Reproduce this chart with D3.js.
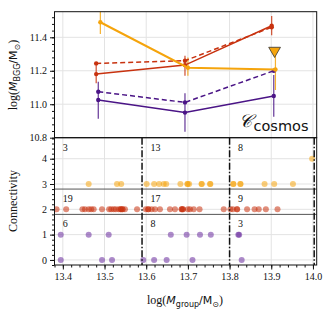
<!DOCTYPE html>
<html>
<head>
<meta charset="utf-8">
<script src="https://cdn.jsdelivr.net/npm/d3@7"></script>
<style>
  body { margin: 0; background: #fff; }
  text { font-family: "Liberation Serif", "DejaVu Serif", serif; }
</style>
</head>
<body>
<div id="chart"></div>
<script>
const c_purple = "#4a1486";
const c_red = "#c8320f";
const c_yellow = "#f5a40c";

// top panel: BGG mass per group-mass bin
const xRed = [13.48, 13.693, 13.901];
const xPurple = [13.485, 13.693, 13.906];
const xYellow = [13.49, 13.70, 13.91];
const redSolid = [11.18, 11.234, 11.469];
const redLo = [11.125, 11.17, 11.413];
const redHi = [11.25, 11.29, 11.527];
const redDashed = [11.244, 11.26, 11.46];
const purpleSolid = [11.025, 10.95, 11.049];
const purpleLo = [10.913, 10.836, 10.925];
const purpleHi = [11.134, 11.065, 11.174];
const purpleDashed = [11.075, 11.011, 11.2];
const yellowVals = [11.49, 11.218, 11.208];
const yellowLo = [11.42, 11.17, 11.085];
const yellowHi = [11.6, 11.28, 11.32];
const yellowLimit = [13.908, 11.32];

// bottom panel: connectivity of each group
const purpleC0 = [13.395, 13.494, 13.518, 13.593, 13.619, 13.649, 13.711, 13.829];
const purpleC1 = [13.395, 13.462, 13.510, 13.659, 13.697, 13.729, 13.755, 13.821, 13.823];
const redC2 = [13.385, 13.408, 13.447, 13.453, 13.462, 13.468, 13.474, 13.494, 13.511, 13.516,
  13.522, 13.527, 13.534, 13.539, 13.539, 13.543, 13.543, 13.549, 13.578,
  13.599, 13.605, 13.605, 13.613, 13.621, 13.633, 13.657, 13.669, 13.685, 13.685, 13.688,
  13.688, 13.700, 13.705, 13.714, 13.728, 13.786,
  13.802, 13.808, 13.818, 13.818, 13.842, 13.860, 13.870, 13.887, 13.915];
const yellowC3 = [13.462, 13.530, 13.540,
  13.601, 13.619, 13.631, 13.642, 13.648, 13.682, 13.699, 13.699, 13.703, 13.733, 13.733,
  13.753, 13.754, 13.809, 13.809, 13.826, 13.826, 13.884, 13.907, 13.952];
const yellowC4 = [13.998];

const binEdges = [13.59, 13.80, 14.003];
const binLabelX = [13.40, 13.61, 13.82];
const yellowCounts = [3, 13, 8];
const redCounts = [19, 17, 9];
const purpleCounts = [6, 8, 3];

const xTicks = [13.4, 13.5, 13.6, 13.7, 13.8, 13.9, 14.0];
const topTicks = [10.8, 11.0, 11.2, 11.4];
const botTicks = [0, 1, 2, 3, 4];

const width = 325, height = 314;
const pLeft = 54.5, pRight = 316.7, pTop = 11.7, pMid = 137.7, pBottom = 265;
const serif = "Liberation Serif, DejaVu Serif, serif";
const sans = "DejaVu Sans, sans-serif";

const svg = d3.select("#chart").append("svg")
  .attr("width", width).attr("height", height);

const x = d3.scaleLinear().domain([13.38, 14.009]).range([pLeft, pRight]);
const yTop = d3.scaleLinear().domain([10.8, 11.553]).range([pMid, pTop]);
const yBot = d3.scaleLinear().domain([-0.2, 4.83]).range([pBottom, pMid]);

const defs = svg.append("defs");
defs.append("clipPath").attr("id", "clipTop")
  .append("rect").attr("x", pLeft).attr("y", pTop).attr("width", pRight - pLeft).attr("height", pMid - pTop);
defs.append("clipPath").attr("id", "clipBot")
  .append("rect").attr("x", pLeft).attr("y", pMid).attr("width", pRight - pLeft).attr("height", pBottom - pMid);

// grid
const grid = svg.append("g").attr("stroke", "#e3e3e3").attr("stroke-width", 1);
xTicks.forEach(t => {
  grid.append("line").attr("x1", x(t)).attr("x2", x(t)).attr("y1", pTop).attr("y2", pBottom);
});
topTicks.forEach(t => {
  grid.append("line").attr("x1", pLeft).attr("x2", pRight).attr("y1", yTop(t)).attr("y2", yTop(t));
});
botTicks.forEach(t => {
  grid.append("line").attr("x1", pLeft).attr("x2", pRight).attr("y1", yBot(t)).attr("y2", yBot(t));
});

// top panel lines
const gTop = svg.append("g").attr("clip-path", "url(#clipTop)");
const line = d3.line().x(d => x(d[0])).y(d => yTop(d[1]));

function series(xs, ys, color, dash, lw) {
  const pts = xs.map((v, i) => [v, ys[i]]);
  gTop.append("path").datum(pts).attr("d", line)
    .attr("fill", "none").attr("stroke", color).attr("stroke-width", lw)
    .attr("stroke-dasharray", dash ? "5,3" : null);
  gTop.selectAll(null).data(pts).enter().append("circle")
    .attr("cx", d => x(d[0])).attr("cy", d => yTop(d[1])).attr("r", 2.2).attr("fill", color);
}
function errs(xs, lo, hi, color) {
  gTop.selectAll(null).data(xs).enter().append("line")
    .attr("x1", d => x(d)).attr("x2", d => x(d))
    .attr("y1", (d, i) => yTop(lo[i])).attr("y2", (d, i) => yTop(hi[i]))
    .attr("stroke", color).attr("stroke-width", 1.2).attr("opacity", 0.85);
}

errs(xPurple, purpleLo, purpleHi, c_purple);
errs(xRed, redLo, redHi, c_red);
errs(xYellow, yellowLo, yellowHi, c_yellow);
series(xPurple, purpleDashed, c_purple, true, 1.5);
series(xPurple, purpleSolid, c_purple, false, 1.5);
series(xRed, redDashed, c_red, true, 1.5);
series(xRed, redSolid, c_red, false, 1.5);
series(xYellow, yellowVals, c_yellow, false, 2);

gTop.append("path")
  .attr("d", d3.symbol().type(d3.symbolTriangle).size(60)())
  .attr("transform", `translate(${x(yellowLimit[0])},${yTop(yellowLimit[1])}) rotate(180)`)
  .attr("fill", c_yellow).attr("stroke", "#333").attr("stroke-width", 0.8);

// cosmos label
const lab = svg.append("text").attr("x", 239).attr("y", 131)
  .style("font-family", sans).attr("font-size", 14.5).attr("fill", "#111");
lab.append("tspan").text("𝒞").attr("font-size", 18).attr("dy", -4)
  .style("font-family", "DejaVu Serif, serif").attr("font-style", "italic");
lab.append("tspan").text("cosmos").attr("dy", 4).attr("dx", 1.5);

// bottom panel
const gBot = svg.append("g").attr("clip-path", "url(#clipBot)");
gBot.selectAll(null).data([2.8, 1.8]).enter().append("line")
  .attr("x1", pLeft).attr("x2", pRight).attr("y1", d => yBot(d)).attr("y2", d => yBot(d))
  .attr("stroke", "#555").attr("stroke-width", 1);

function dots(xs, c, color) {
  gBot.selectAll(null).data(xs).enter().append("circle")
    .attr("cx", d => x(d)).attr("cy", yBot(c)).attr("r", 3)
    .attr("fill", color).attr("fill-opacity", 0.55);
}
dots(purpleC0, 0, "#6a2c9e");
dots(purpleC1, 1, "#6a2c9e");
dots(redC2, 2, c_red);
dots(yellowC3, 3, c_yellow);
dots(yellowC4, 4, c_yellow);

gBot.selectAll(null).data(binEdges).enter().append("line")
  .attr("x1", d => x(d)).attr("x2", d => x(d)).attr("y1", pMid).attr("y2", pBottom)
  .attr("stroke", "#111").attr("stroke-width", 1.5).attr("stroke-dasharray", "7,2,1.5,2");

const countRows = [[yellowCounts, 4.45], [redCounts, 2.42], [purpleCounts, 1.45]];
countRows.forEach(r => {
  svg.selectAll(null).data(r[0]).enter().append("text")
    .attr("x", (d, i) => x(binLabelX[i])).attr("y", yBot(r[1]))
    .attr("dy", "0.35em").attr("font-size", 10).attr("fill", "#111")
    .style("font-family", serif)
    .text(d => d);
});

// axes
function fmt(d) { return d3.format(".1f")(d); }
const xMinor = d3.range(13.38, 14.01, 0.02);
svg.append("g").attr("transform", `translate(0,${pBottom})`)
  .call(d3.axisBottom(x).tickValues(xMinor).tickSize(2.5).tickFormat(""));
svg.append("g").attr("transform", `translate(0,${pBottom})`)
  .call(d3.axisBottom(x).tickValues(xTicks).tickSize(4.5).tickPadding(3).tickFormat(fmt));

svg.append("g").attr("transform", `translate(${pLeft},0)`)
  .call(d3.axisLeft(yTop).tickValues(d3.range(10.8, 11.55, 0.04)).tickSize(2.5).tickFormat(""));
svg.append("g").attr("transform", `translate(${pLeft},0)`)
  .call(d3.axisLeft(yTop).tickValues(topTicks).tickSize(4.5).tickPadding(3).tickFormat(fmt));

svg.append("g").attr("transform", `translate(${pLeft},0)`)
  .call(d3.axisLeft(yBot).tickValues(d3.range(-0.2, 4.81, 0.2)).tickSize(2.5).tickFormat(""));
svg.append("g").attr("transform", `translate(${pLeft},0)`)
  .call(d3.axisLeft(yBot).tickValues(botTicks).tickSize(4.5).tickPadding(3).tickFormat(d3.format("d")));

svg.selectAll(".domain").remove();
svg.selectAll(".tick text").attr("font-size", 10).attr("fill", "#111")
  .style("font-family", serif);
svg.selectAll(".tick line").attr("stroke", "#111");

// frames
[[pTop, pMid], [pMid, pBottom]].forEach(p => {
  svg.append("rect").attr("x", pLeft).attr("y", p[0]).attr("width", pRight - pLeft).attr("height", p[1] - p[0])
    .attr("fill", "none").attr("stroke", "#111").attr("stroke-width", 1);
});

// axis labels
function massLabel(sel, sub) {
  sel.append("tspan").text("log(");
  sel.append("tspan").text("M").attr("font-style", "italic").style("font-family", sans).attr("font-size", 11);
  sel.append("tspan").text(sub).attr("font-size", 8).attr("dy", 3).style("font-family", sans);
  sel.append("tspan").text("/M").attr("dy", -3).style("font-family", sans).attr("font-size", 11);
  sel.append("tspan").text("⊙").attr("font-size", 8).attr("dy", 3).style("font-family", sans);
  sel.append("tspan").text(")").attr("dy", -3);
}

const yl1 = svg.append("text").attr("transform", `translate(17,75) rotate(-90)`)
  .attr("text-anchor", "middle").attr("font-size", 12).attr("fill", "#111").style("font-family", serif);
massLabel(yl1, "BGG");

svg.append("text").attr("transform", `translate(17,201) rotate(-90)`)
  .attr("text-anchor", "middle").attr("font-size", 12).attr("fill", "#111")
  .style("font-family", serif).text("Connectivity");

const xl = svg.append("text").attr("x", 185).attr("y", 304)
  .attr("text-anchor", "middle").attr("font-size", 12).attr("fill", "#111").style("font-family", serif);
massLabel(xl, "group");
</script>
</body>
</html>
